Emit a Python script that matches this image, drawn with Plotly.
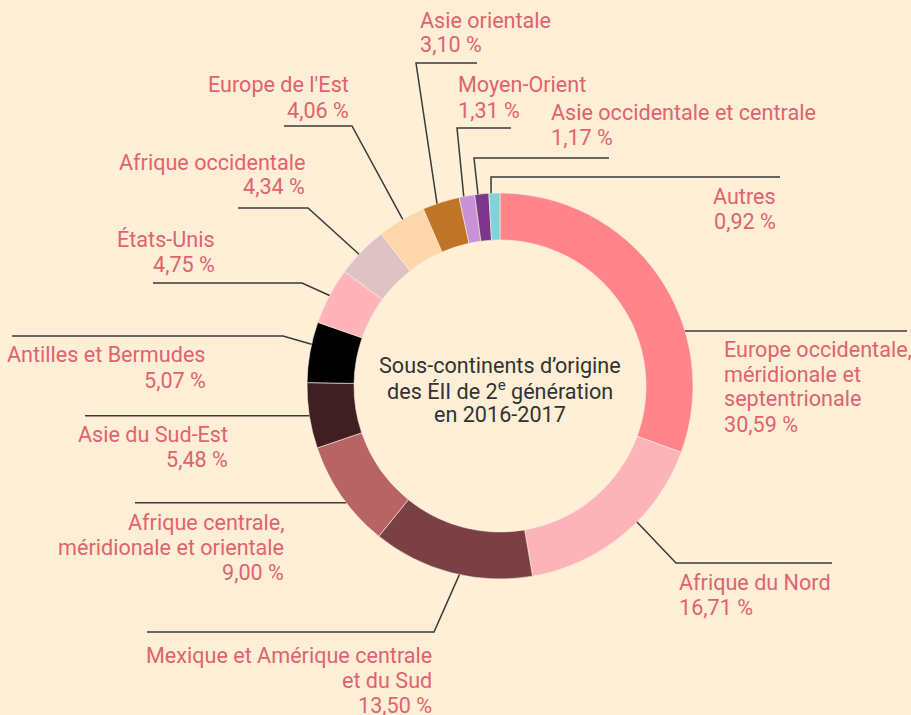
import math
import plotly.graph_objects as go

# ---------------- data ----------------
categories = [
    "Europe occidentale, méridionale et septentrionale",
    "Afrique du Nord",
    "Mexique et Amérique centrale et du Sud",
    "Afrique centrale, méridionale et orientale",
    "Asie du Sud-Est",
    "Antilles et Bermudes",
    "États-Unis",
    "Afrique occidentale",
    "Europe de l'Est",
    "Asie orientale",
    "Moyen-Orient",
    "Asie occidentale et centrale",
    "Autres",
]
values = [30.59, 16.71, 13.50, 9.00, 5.48, 5.07, 4.75, 4.34, 4.06, 3.10, 1.31, 1.17, 0.92]
label_lines = [
    ["Europe occidentale,", "méridionale et", "septentrionale"],
    ["Afrique du Nord"],
    ["Mexique et Amérique centrale", "et du Sud"],
    ["Afrique centrale,", "méridionale et orientale"],
    ["Asie du Sud-Est"],
    ["Antilles et Bermudes"],
    ["États-Unis"],
    ["Afrique occidentale"],
    ["Europe de l'Est"],
    ["Asie orientale"],
    ["Moyen-Orient"],
    ["Asie occidentale et centrale"],
    ["Autres"],
]
center_lines = ["Sous-continents d’origine", "des ÉII de 2<sup>e</sup> génération", "en 2016-2017"]

# ---------------- styles ----------------
colors = ["#FF858B", "#FDB4B9", "#7B4045", "#B86366", "#3F2022", "#000000",
          "#FEB4BA", "#DEC3C6", "#FED6AB", "#C07428", "#C892D6", "#7B378B", "#80D4D9"]
BG = "#FFEFD7"
LABEL_COLOR = "#E2636E"
LINE_COLOR = "#3A3A3A"
FONT = "Roboto"
FS = 21.6
WEIGHT = 400

W, H = 911, 715
CX, CY, R_OUT, R_IN = 500, 386, 193, 146

# leader layout: (fraction within slice, elbow px or None, horizontal end x,
#                 text anchor x, align, first line centre y)
leaders = [
    (0.667, None,        907, 722, "left",  349),
    (0.41,  (676, 563),  832, 677, "left",  582),
    (0.45,  (434, 632),  147, 434, "right", 655),
    (0.43,  None,        135, 286, "right", 522),
    (0.50,  None,         85, 230, "right", 434),
    (0.63,  (283, 336),   12, 208, "right", 355),
    (0.51,  (302, 283),  153, 217, "right", 239),
    (0.43,  (308, 208),  238, 307, "right", 162),
    (0.53,  (352, 126),  284, 351, "right",  85),
    (0.39,  (416, 63),   477, 418, "left",   20),
    (0.30,  (457, 128),  511, 456, "left",   85),
    (0.23,  (474, 158),  609, 549, "left",  112),
    (0.20,  (491, 177),  780, 778, "right", 197),
]
LINE_STEP = 25


def px(x):
    return x / W


def py(y):
    return 1 - y / H


def fmt_pct(v):
    return f"{v:.2f}".replace(".", ",") + " %"


fig = go.Figure()
fig.add_trace(go.Pie(
    labels=categories,
    values=values,
    sort=False,
    direction="clockwise",
    rotation=0,
    hole=R_IN / R_OUT,
    marker=dict(colors=colors, line=dict(color=BG, width=0.6)),
    textinfo="none",
    hoverinfo="label+percent",
    showlegend=False,
    domain=dict(x=[px(CX - R_OUT), px(CX + R_OUT)], y=[py(CY + R_OUT), py(CY - R_OUT)]),
))

total = sum(values)
shapes = []
annotations = []
cum = 0.0
for i, v in enumerate(values):
    start = cum / total * 360
    end = (cum + v) / total * 360
    cum += v
    frac, elbow, hend, tx, align, ty = leaders[i]
    theta = math.radians(start + frac * (end - start))
    ax = CX + R_OUT * math.sin(theta)
    ay = CY - R_OUT * math.cos(theta)
    if elbow is None:
        pts = [(ax, ay), (hend, ay)]
    else:
        pts = [(ax, ay), elbow, (hend, elbow[1])]
    path = "M " + " L ".join(f"{px(x):.5f},{py(y):.5f}" for x, y in pts)
    shapes.append(dict(type="path", path=path, xref="paper", yref="paper",
                       line=dict(color=LINE_COLOR, width=1.5)))
    lines = label_lines[i] + [fmt_pct(v)]
    for k, txt in enumerate(lines):
        annotations.append(dict(
            text=txt, x=px(tx), y=py(ty + k * LINE_STEP), xref="paper", yref="paper",
            xanchor="left" if align == "left" else "right", yanchor="middle",
            showarrow=False,
            font=dict(family=FONT, size=FS, color=LABEL_COLOR, weight=WEIGHT)))

for k, txt in enumerate(center_lines):
    annotations.append(dict(
        text=txt, x=px(CX), y=py(365 + k * 24.5), xref="paper", yref="paper",
        xanchor="center", yanchor="middle", showarrow=False,
        font=dict(family=FONT, size=FS, color="#333333", weight=WEIGHT)))

fig.update_layout(
    width=W, height=H,
    margin=dict(l=0, r=0, t=0, b=0),
    paper_bgcolor=BG, plot_bgcolor=BG,
    shapes=shapes, annotations=annotations,
    font=dict(family=FONT),
)
fig.write_html(
    "out.html",
    config={"displayModeBar": False},
    post_script="document.body.style.margin='0';document.body.style.overflow='hidden';",
)
